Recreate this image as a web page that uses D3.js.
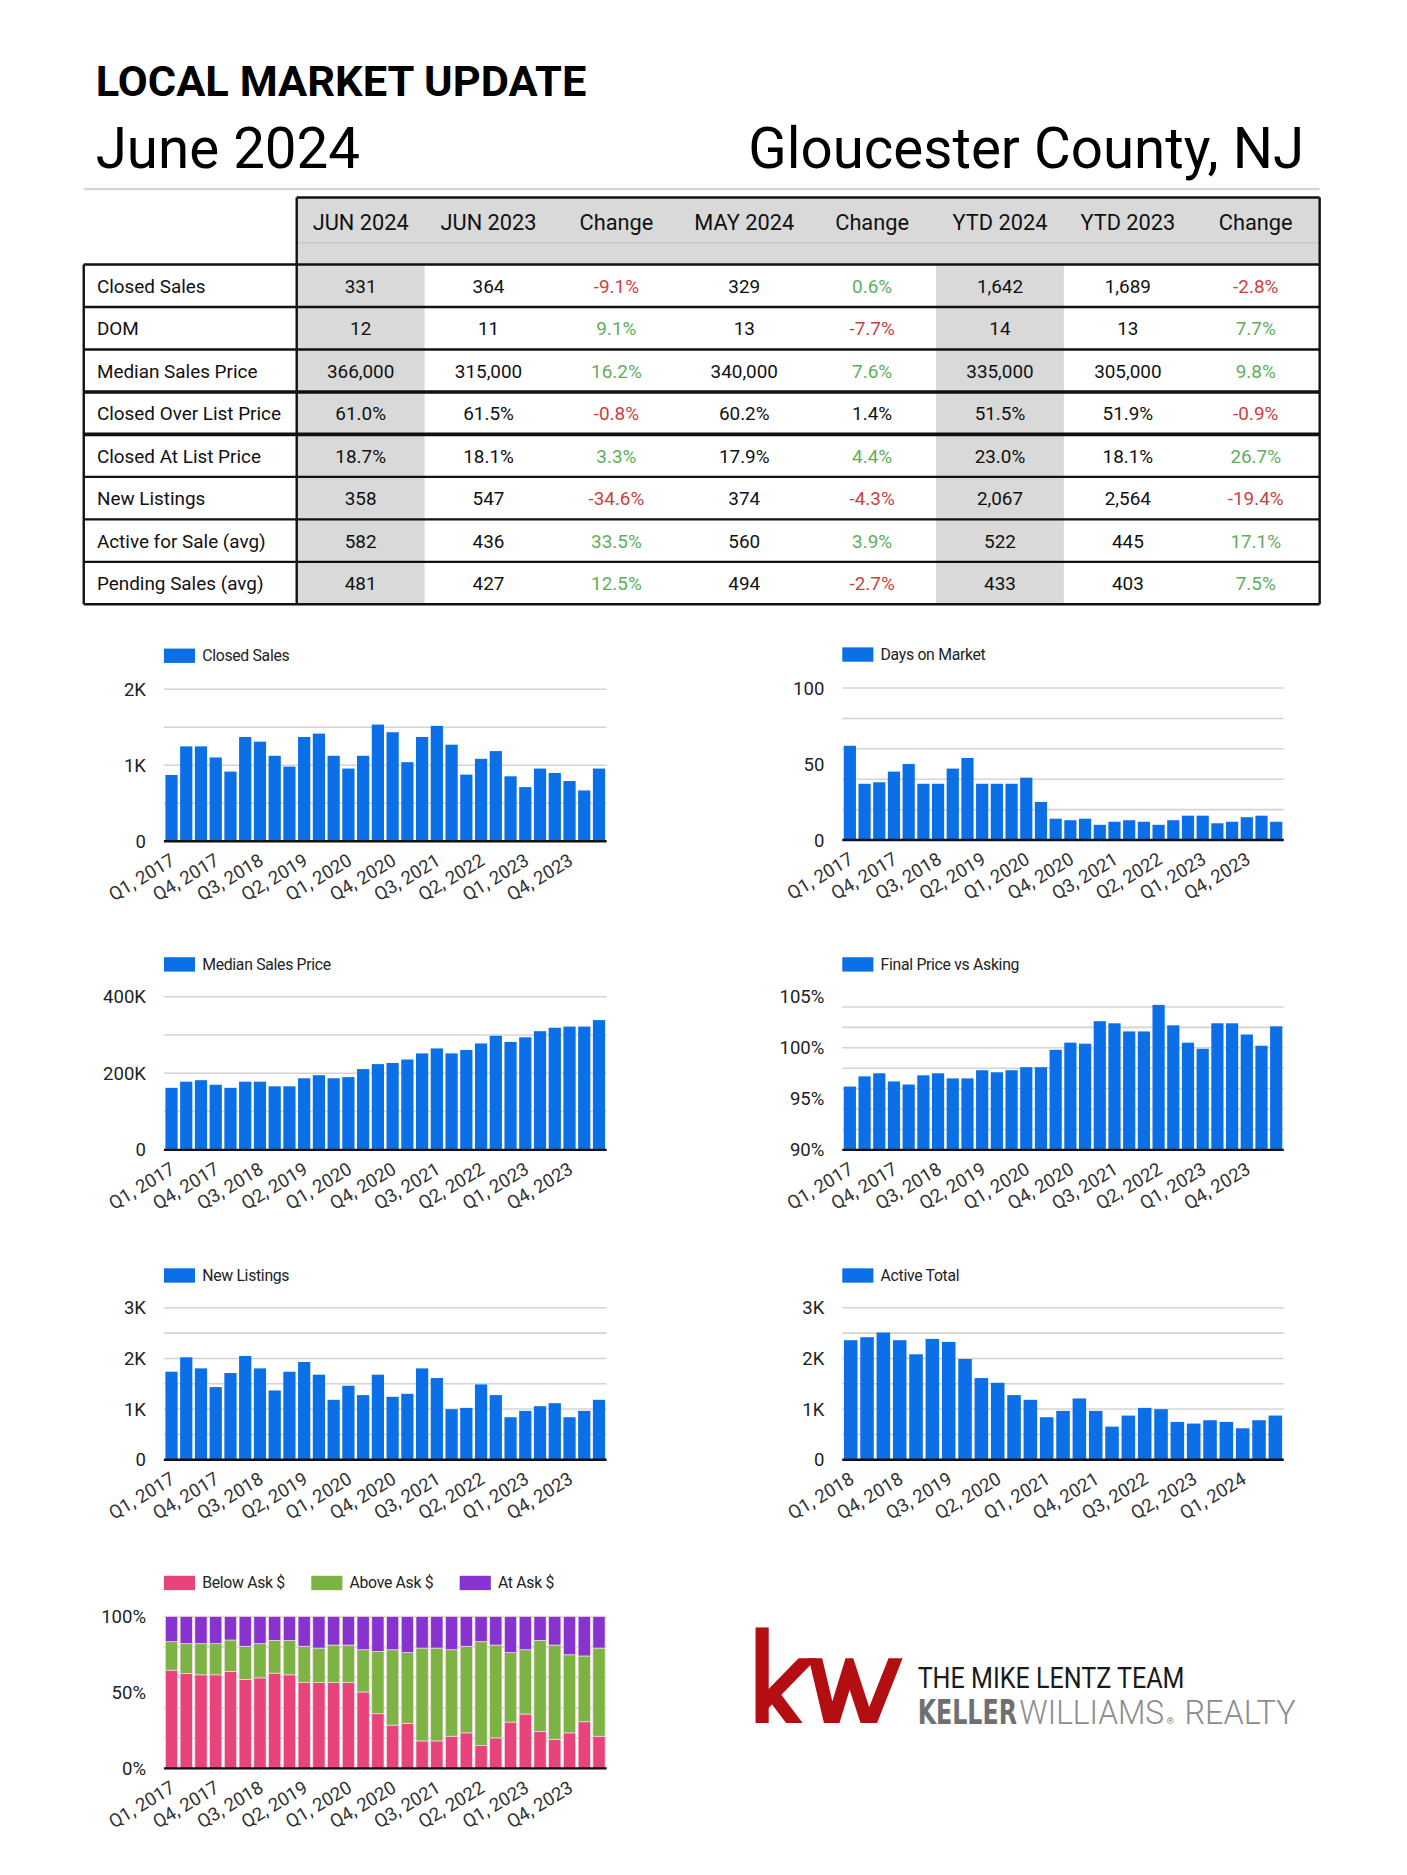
<!DOCTYPE html>
<html><head><meta charset="utf-8">
<script src="https://cdn.jsdelivr.net/npm/d3@7"></script>
<style>
html,body{margin:0;padding:0;background:#fff;}
svg{display:block;}
text{font-family:Roboto,"Noto Sans",sans-serif;}
</style></head>
<body>
<script>
// ---------------- DATA ----------------
const tableColumns = ["JUN 2024","JUN 2023","Change","MAY 2024","Change","YTD 2024","YTD 2023","Change"];
const rowLabels = ["Closed Sales","DOM","Median Sales Price","Closed Over List Price","Closed At List Price","New Listings","Active for Sale (avg)","Pending Sales (avg)"];
const jun2024 = ["331","12","366,000","61.0%","18.7%","358","582","481"];
const jun2023 = ["364","11","315,000","61.5%","18.1%","547","436","427"];
const chgYoY  = ["-9.1%","9.1%","16.2%","-0.8%","3.3%","-34.6%","33.5%","12.5%"];
const may2024 = ["329","13","340,000","60.2%","17.9%","374","560","494"];
const chgMoM  = ["0.6%","-7.7%","7.6%","1.4%","4.4%","-4.3%","3.9%","-2.7%"];
const ytd2024 = ["1,642","14","335,000","51.5%","23.0%","2,067","522","433"];
const ytd2023 = ["1,689","13","305,000","51.9%","18.1%","2,564","445","403"];
const chgYTD  = ["-2.8%","7.7%","9.8%","-0.9%","26.7%","-19.4%","17.1%","7.5%"];
const neutralCells = [[3,4]]; // [row, column] change cells shown in black

const quarters17 = ["Q1, 2017","Q2, 2017","Q3, 2017","Q4, 2017","Q1, 2018","Q2, 2018","Q3, 2018","Q4, 2018",
  "Q1, 2019","Q2, 2019","Q3, 2019","Q4, 2019","Q1, 2020","Q2, 2020","Q3, 2020","Q4, 2020",
  "Q1, 2021","Q2, 2021","Q3, 2021","Q4, 2021","Q1, 2022","Q2, 2022","Q3, 2022","Q4, 2022",
  "Q1, 2023","Q2, 2023","Q3, 2023","Q4, 2023","Q1, 2024","Q2, 2024"];
const quarters18 = ["Q1, 2018","Q2, 2018","Q3, 2018","Q4, 2018","Q1, 2019","Q2, 2019","Q3, 2019","Q4, 2019",
  "Q1, 2020","Q2, 2020","Q3, 2020","Q4, 2020","Q1, 2021","Q2, 2021","Q3, 2021","Q4, 2021",
  "Q1, 2022","Q2, 2022","Q3, 2022","Q4, 2022","Q1, 2023","Q2, 2023","Q3, 2023","Q4, 2023",
  "Q1, 2024","Q2, 2024","Q3, 2024"];

const closedSales = [872,1248,1248,1102,916,1372,1310,1124,982,1372,1416,1124,956,1124,1535,1434,1040,1372,1518,1270,876,1084,1186,854,712,956,898,792,668,956];
const daysOnMarket = [62,37,38,45,50,37,37,47,54,37,37,37,41,25,14,13,14,10,12,13,12,10,13,16,16,11,12,15,16,12];
const medianPrice = [162000,178000,182000,170000,162000,178000,178000,166000,166000,187000,195000,187000,190000,211000,224000,227000,236000,252000,265000,252000,261000,278000,298000,282000,294000,310000,319000,322000,322000,339000];
const finalVsAsking = [96.2,97.2,97.5,96.7,96.4,97.3,97.5,97.0,97.0,97.8,97.6,97.8,98.1,98.1,99.8,100.5,100.4,102.6,102.4,101.6,101.6,104.2,102.2,100.5,99.9,102.4,102.4,101.3,100.2,102.1];
const newListings = [1738,2022,1804,1434,1712,2049,1804,1368,1738,1930,1679,1183,1461,1276,1679,1243,1302,1804,1613,998,1024,1487,1276,839,965,1057,1117,839,965,1183];
const activeTotal = [2360,2419,2512,2360,2082,2386,2327,1989,1613,1520,1276,1183,839,965,1210,965,654,872,1024,998,747,714,780,747,621,780,872];
const belowAsk = [64.7,62.5,61.6,61.6,63.8,58.5,59.6,62.7,61.6,56.5,56.5,56.5,56.5,50.3,36.0,28.5,29.6,18.1,18.1,21.2,23.4,15.0,20.1,30.5,35.8,24.3,19.2,23.4,30.7,21.2];
const aboveAsk = [18.7,19.6,20.5,20.5,20.7,21.9,22.5,21.6,22.7,23.9,22.7,24.7,24.7,27.8,41.0,49.6,46.6,61.1,61.1,56.9,57.0,68.4,61.1,45.7,42.3,60.0,62.0,51.4,43.3,58.0];
const atAsk = [16.6,17.9,17.9,17.9,15.5,19.6,17.9,15.7,15.7,19.6,20.8,18.8,18.8,21.9,23.0,21.9,23.8,20.8,20.8,21.9,19.6,16.6,18.8,23.8,21.9,15.7,18.8,25.2,26.0,20.8];

const ticksClosed = [0,1000,2000], tickLabelsClosed = ["0","1K","2K"];
const ticksDom = [0,50,100], tickLabelsDom = ["0","50","100"];
const ticksMedian = [0,200000,400000], tickLabelsMedian = ["0","200K","400K"];
const ticksFinal = [90,95,100,105], tickLabelsFinal = ["90%","95%","100%","105%"];
const ticksK3 = [0,1000,2000,3000], tickLabelsK3 = ["0","1K","2K","3K"];
const ticksPct = [0,50,100], tickLabelsPct = ["0%","50%","100%"];
const stackKeys = ["Below Ask $","Above Ask $","At Ask $"];

// ---------------- STYLE ----------------
const BLUE = "#0b70e8";
const STACK_COLORS = ["#e8437b","#7cb342","#8733cf"];
const RED = "#cc3f3f", GREEN = "#5fae5a";

const svg = d3.select("body").append("svg")
  .attr("width",1407).attr("height",1875).attr("viewBox","0 0 1176 1567");
svg.append("rect").attr("width",1176).attr("height",1567).attr("fill","#fff");

// ---------------- HEADER ----------------
svg.append("text").attr("x",80).attr("y",80).attr("font-size",36.3).attr("font-weight",700)
  .attr("fill","#000").text("LOCAL MARKET UPDATE");
svg.append("text").attr("x",80).attr("y",140).attr("font-size",47.2).attr("fill","#000").text("June 2024");
svg.append("text").attr("x",1090).attr("y",140).attr("font-size",47.2).attr("fill","#000")
  .attr("text-anchor","end").text("Gloucester County, NJ");
svg.append("line").attr("x1",70).attr("x2",1103).attr("y1",158).attr("y2",158)
  .attr("stroke","#d5d5d5").attr("stroke-width",2);

// ---------------- TABLE ----------------
const tbl = svg.append("g");
const colX = d3.scaleBand().domain(d3.range(tableColumns.length)).range([248,1103]);
const rowY = d3.scaleBand().domain(d3.range(rowLabels.length)).range([221,505]);
const GRAY = "#d9d9d9";
tbl.append("rect").attr("x",248).attr("y",165).attr("width",855).attr("height",56).attr("fill",GRAY);
tbl.append("line").attr("x1",248).attr("x2",1103).attr("y1",203).attr("y2",203).attr("stroke","#cacaca").attr("stroke-width",1.5);
[0,5].forEach(c=>{
  tbl.append("rect").attr("x",colX(c)).attr("y",221).attr("width",colX.bandwidth()).attr("height",284).attr("fill",GRAY);
});
tbl.selectAll("text.hdr").data(tableColumns).join("text")
  .attr("x",(d,i)=>colX(i)+colX.bandwidth()/2).attr("y",192)
  .attr("text-anchor","middle").attr("font-size",18.2).attr("fill","#111").text(d=>d);
const columnsData = [jun2024,jun2023,chgYoY,may2024,chgMoM,ytd2024,ytd2023,chgYTD];
const changeCols = [2,4,7];
rowLabels.forEach((lab,r)=>{
  const cy = rowY(r)+rowY.bandwidth()/2;
  tbl.append("text").attr("x",81).attr("y",cy+5.8).attr("font-size",15.8).attr("fill","#111").text(lab);
  columnsData.forEach((col,c)=>{
    const v = col[r];
    let fill = "#111";
    if(changeCols.includes(c)){
      const neutral = neutralCells.some(n=>n[0]===r&&n[1]===c);
      fill = neutral ? "#111" : (v.startsWith("-") ? RED : GREEN);
    }
    tbl.append("text").attr("x",colX(c)+colX.bandwidth()/2).attr("y",cy+5.8)
      .attr("text-anchor","middle").attr("font-size",15.8).attr("fill",fill).text(v);
  });
});
const rowLines = d3.range(rowLabels.length+1);
tbl.selectAll("line.row").data(rowLines).join("line")
  .attr("x1",70).attr("x2",1103)
  .attr("y1",d=>d<rowLabels.length?rowY(d):505).attr("y2",d=>d<rowLabels.length?rowY(d):505)
  .attr("stroke","#111").attr("stroke-width",d=>(d===3||d===4)?3:2);
tbl.append("line").attr("x1",248).attr("x2",1103).attr("y1",165).attr("y2",165).attr("stroke","#111").attr("stroke-width",2);
tbl.append("line").attr("x1",248).attr("x2",248).attr("y1",165).attr("y2",505).attr("stroke","#111").attr("stroke-width",2);
tbl.append("line").attr("x1",1103).attr("x2",1103).attr("y1",165).attr("y2",505).attr("stroke","#111").attr("stroke-width",2);
tbl.append("line").attr("x1",70).attr("x2",70).attr("y1",221).attr("y2",505).attr("stroke","#111").attr("stroke-width",2);

// ---------------- CHARTS ----------------
function chartFrame(cfg){
  const g = svg.append("g");
  const x = d3.scaleBand().domain(cfg.cats).range([cfg.x0,cfg.x1]).paddingInner(0.17).paddingOuter(0.1);
  const y = d3.scaleLinear().domain(cfg.domain).range([cfg.yBase,cfg.yTop]);
  g.selectAll("line.grid").data(y.ticks(cfg.gridCount)).join("line")
    .attr("x1",cfg.x0).attr("x2",cfg.x1).attr("y1",d=>y(d)).attr("y2",d=>y(d))
    .attr("stroke","#d4d4d4").attr("stroke-width",1.3);
  const ya = g.append("g").attr("transform",`translate(${cfg.x0},0)`)
    .call(d3.axisLeft(y).tickValues(cfg.ticks).tickFormat((d,i)=>cfg.tickLabels[i]).tickSize(0).tickPadding(15));
  ya.select(".domain").remove();
  ya.selectAll("text").attr("font-size",15.5).attr("fill","#222").attr("font-family","Roboto,sans-serif");
  const xa = g.append("g").attr("transform",`translate(0,${cfg.yBase})`)
    .call(d3.axisBottom(x).tickValues(cfg.cats.filter((d,i)=>i%3===0)).tickSize(0));
  xa.select(".domain").remove();
  xa.selectAll("text").attr("font-size",15.5).attr("fill","#333").attr("font-family","Roboto,sans-serif")
    .attr("text-anchor","end").attr("dy",0).attr("y",0)
    .attr("transform","translate(4,19) rotate(-31)");
  const lg = g.append("g");
  let lx = cfg.x0;
  cfg.legend.forEach((l,i)=>{
    lg.append("rect").attr("x",lx).attr("y",cfg.legendY-6).attr("width",26).attr("height",12).attr("fill",l.color);
    const t = lg.append("text").attr("x",lx+32).attr("y",cfg.legendY+4.5).attr("font-size",13.2)
      .attr("fill","#222").attr("letter-spacing",-0.25).text(l.name);
    lx += 32 + t.node().getComputedTextLength() + 22;
  });
  return {g,x,y};
}
function barChart(cfg){
  const {g,x,y} = chartFrame(cfg);
  g.selectAll("rect.bar").data(cfg.values).join("rect")
    .attr("x",(d,i)=>x(cfg.cats[i])).attr("width",x.bandwidth())
    .attr("y",d=>y(d)).attr("height",d=>y(cfg.domain[0])-y(d)).attr("fill",BLUE);
  g.append("line").attr("x1",cfg.x0).attr("x2",cfg.x1).attr("y1",cfg.yBase).attr("y2",cfg.yBase)
    .attr("stroke","#111").attr("stroke-width",2);
}

const L = {x0:137,x1:507}, R = {x0:704,x1:1073};
barChart({...L,yTop:576,yBase:703,domain:[0,2000],gridCount:4,ticks:ticksClosed,tickLabels:tickLabelsClosed,
  cats:quarters17,values:closedSales,legendY:548,legend:[{name:"Closed Sales",color:BLUE}]});
barChart({...R,yTop:575,yBase:702,domain:[0,100],gridCount:4,ticks:ticksDom,tickLabels:tickLabelsDom,
  cats:quarters17,values:daysOnMarket,legendY:547,legend:[{name:"Days on Market",color:BLUE}]});
barChart({...L,yTop:833,yBase:961,domain:[0,400000],gridCount:4,ticks:ticksMedian,tickLabels:tickLabelsMedian,
  cats:quarters17,values:medianPrice,legendY:806,legend:[{name:"Median Sales Price",color:BLUE}]});
barChart({...R,yTop:833,yBase:961,domain:[90,105],gridCount:6,ticks:ticksFinal,tickLabels:tickLabelsFinal,
  cats:quarters17,values:finalVsAsking,legendY:806,legend:[{name:"Final Price vs Asking",color:BLUE}]});
barChart({...L,yTop:1093,yBase:1220,domain:[0,3000],gridCount:6,ticks:ticksK3,tickLabels:tickLabelsK3,
  cats:quarters17,values:newListings,legendY:1066,legend:[{name:"New Listings",color:BLUE}]});
barChart({...R,yTop:1093,yBase:1220,domain:[0,3000],gridCount:6,ticks:ticksK3,tickLabels:tickLabelsK3,
  cats:quarters18,values:activeTotal,legendY:1066,legend:[{name:"Active Total",color:BLUE}]});

(function(){
  const cfg = {...L,yTop:1351,yBase:1478,domain:[0,100],gridCount:4,ticks:ticksPct,tickLabels:tickLabelsPct,
    cats:quarters17,legendY:1323,legend:stackKeys.map((k,i)=>({name:k,color:STACK_COLORS[i]}))};
  const {g,x,y} = chartFrame(cfg);
  const rows = quarters17.map((q,i)=>({q,[stackKeys[0]]:belowAsk[i],[stackKeys[1]]:aboveAsk[i],[stackKeys[2]]:atAsk[i]}));
  const series = d3.stack().keys(stackKeys)(rows);
  series.forEach((s,si)=>{
    g.selectAll(null).data(s).join("rect")
      .attr("x",d=>x(d.data.q)).attr("width",x.bandwidth())
      .attr("y",d=>y(d[1])).attr("height",d=>y(d[0])-y(d[1]))
      .attr("fill",STACK_COLORS[si]).attr("stroke","#f3dbe6").attr("stroke-width",0.6);
  });
  g.append("line").attr("x1",cfg.x0).attr("x2",cfg.x1).attr("y1",cfg.yBase).attr("y2",cfg.yBase)
    .attr("stroke","#111").attr("stroke-width",2);
})();

// ---------------- LOGO ----------------
const defs = svg.append("defs");
const cp = defs.append("clipPath").attr("id","kwclip");
cp.append("rect").attr("x",620).attr("y",1386).attr("width",140).attr("height",54);
cp.append("rect").attr("x",620).attr("y",1360).attr("width",24).attr("height",80);
const logo = svg.append("g").attr("clip-path","url(#kwclip)");
const KW = "#b30f12";
const kwStrokes = [
  [[637,1350],[637,1450]],
  [[638,1424],[682,1379]],
  [[645,1415],[673,1452]],
  [[679,1375],[695,1443],[710,1394],[726,1443],[754,1372]]
];
const ln = d3.line();
kwStrokes.forEach(p=>logo.append("path").attr("d",ln(p)).attr("fill","none").attr("stroke",KW)
  .attr("stroke-width",11).attr("stroke-linejoin","miter").attr("stroke-miterlimit",10).attr("stroke-linecap","butt"));
const NARROW = "'Liberation Sans Narrow','DejaVu Sans Condensed',sans-serif";
svg.append("text").attr("x",767).attr("y",1411).attr("font-size",25)
  .attr("font-family",NARROW).attr("fill","#1a1a1a")
  .attr("textLength",223).attr("lengthAdjust","spacingAndGlyphs").text("THE MIKE LENTZ TEAM");
const kwText = svg.append("text").attr("y",1441).attr("font-size",28).attr("fill","#8c8c8c");
kwText.append("tspan").attr("x",767).attr("font-weight",700).attr("font-family",NARROW).attr("fill","#6f6f6f")
  .attr("textLength",83).attr("lengthAdjust","spacingAndGlyphs").text("KELLER");
kwText.append("tspan").attr("x",852).attr("font-weight",300).attr("font-family","Roboto,sans-serif")
  .attr("textLength",121).attr("lengthAdjust","spacingAndGlyphs").text("WILLIAMS");
kwText.append("tspan").attr("x",975).attr("font-size",8).attr("font-family","Roboto,sans-serif").text("®");
kwText.append("tspan").attr("x",990).attr("font-weight",300).attr("font-family","Roboto,sans-serif")
  .attr("textLength",93).attr("lengthAdjust","spacingAndGlyphs").text("REALTY");
</script>
</body></html>
